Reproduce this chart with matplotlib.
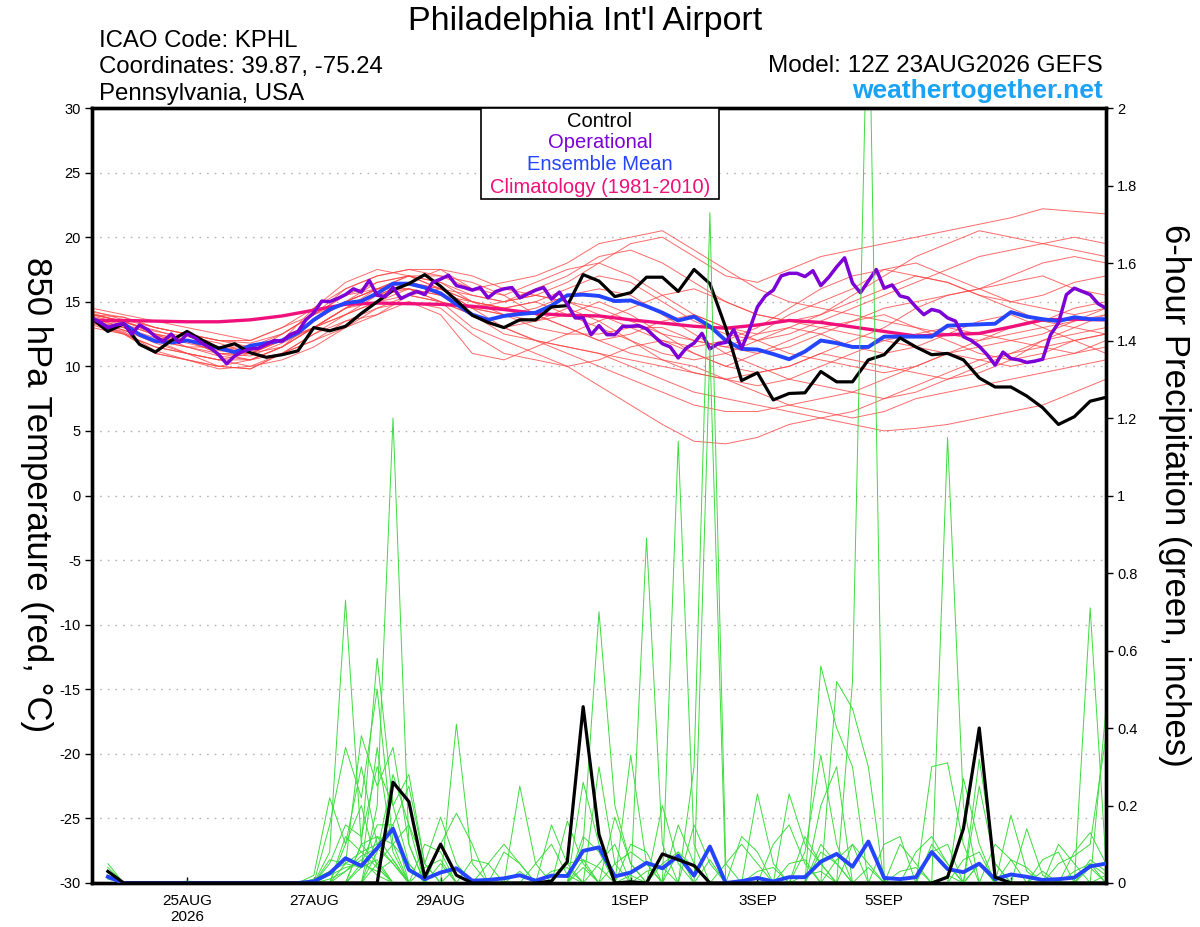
import numpy as np
import pandas as pd
import matplotlib
matplotlib.use("Agg")
import matplotlib.pyplot as plt
from matplotlib.patches import Rectangle

plt.rcParams['font.family'] = ['Liberation Sans', 'DejaVu Sans']
plt.rcParams['axes.unicode_minus'] = False

# ---- run / axis info ----
run_time = pd.Timestamp('2026-08-23 12:00')
tick_dates = ['2026-08-25', '2026-08-27', '2026-08-29', '2026-09-01',
              '2026-09-03', '2026-09-05', '2026-09-07']
tick_labels = ['25AUG\n2026', '27AUG', '29AUG', '1SEP', '3SEP', '5SEP', '7SEP']

# ---- 850 hPa temperature (C) ----
# control, 6-hourly from 12Z 23AUG
ctrl_t = [13.7, 12.7, 13.3, 11.7, 11.1, 12.0, 12.7, 12.0, 11.4, 11.75, 11.05, 10.7, 10.9,
          11.2, 13.0, 12.75, 13.1, 14.1, 15.0, 15.9, 16.4, 17.1, 16.2, 15.1, 13.95,
          13.4, 13.0, 13.6, 13.6, 14.6, 14.7, 17.1, 16.6, 15.4, 15.7, 16.9, 16.9, 15.8,
          17.5, 16.4, 13.0, 8.9, 9.5, 7.4, 7.9, 7.95,
          9.6, 8.8, 8.8, 10.5, 10.9, 12.2, 11.5, 10.9, 11.0, 10.5, 9.1, 8.4, 8.4, 7.7,
          6.8, 5.5, 6.1, 7.3, 7.6]
# ensemble mean, 6-hourly
mean_t = [13.75, 13.0, 13.3, 12.45, 11.95, 11.85, 12.0, 11.75, 11.4, 11.1, 11.6, 11.8, 12.0,
          12.6, 13.6, 14.4, 14.9, 15.05, 15.65, 16.4, 16.4, 16.1, 15.65, 14.8, 14.0,
          13.6, 13.9, 14.05, 14.15, 14.7, 15.5, 15.55, 15.45, 15.05, 15.1, 14.65, 14.15,
          13.55, 13.85, 13.1, 12.0, 11.35, 11.3, 10.95, 10.55,
          11.15, 12.0, 11.8, 11.5, 11.5, 12.3, 12.3, 12.3, 12.3, 13.15, 13.2, 13.25,
          13.3, 14.2, 13.85, 13.65, 13.5, 13.8, 13.65, 13.65]
# operational run, 3-hourly
oper_t = [13.7, 13.4, 13.0, 13.2, 13.3, 12.5, 13.2, 12.85, 12.3, 11.95, 12.5, 11.85, 12.5,
          12.2, 11.75, 11.4, 10.9, 10.2, 10.8, 11.15, 11.35, 11.4, 11.7, 12.0, 11.95,
          12.45, 12.7, 13.6, 14.15, 15.05, 15.0, 15.25, 15.55, 16.0, 15.75, 16.65, 15.5,
          15.4, 16.1, 15.25, 15.55, 15.8, 15.55, 16.5, 16.75, 17.05, 16.25, 16.1, 15.9,
          16.1, 15.3, 15.8, 16.0, 16.1, 15.3, 15.6, 15.9, 16.1, 15.2, 15.75, 14.8,
          13.75, 13.75, 12.45, 13.15, 12.45, 12.45, 13.1, 13.1, 13.15, 12.9, 12.3, 11.75,
          11.5, 10.65, 11.4, 11.8, 12.55, 11.35, 11.75, 11.85, 12.85, 11.4, 12.85, 14.6,
          15.45, 15.9, 17.0, 17.2, 17.2, 16.95, 17.4, 16.25, 16.9, 17.7, 18.4, 16.45,
          15.7, 16.6, 17.5, 16.05, 16.3, 15.45, 15.3, 14.6, 14.0, 14.4, 14.25, 13.75,
          13.5, 12.3, 12.0, 11.55, 10.9, 10.1, 11.1, 10.6, 10.5, 10.3, 10.4, 10.55,
          12.45, 13.35, 15.55, 16.05, 15.8, 15.55, 14.85, 14.5]
# climatology 1981-2010, 12-hourly
clim_t = [13.55, 13.55, 13.5, 13.45, 13.45, 13.6, 13.9, 14.35, 14.8, 14.9, 14.85, 14.8,
          14.65, 14.4, 14.1, 13.95, 13.9, 13.6, 13.35, 13.1, 12.95, 13.2, 13.55, 13.4,
          13.05, 12.7, 12.35, 12.45, 12.55, 13.05, 13.6, 13.65, 13.6]

# ensemble members, 12-hourly
ens_t01 = [14.2, 13.8, 13.0, 12.5, 12.0, 11.8, 12.5, 14.0, 15.5, 16.5, 17.0, 16.5, 15.5, 15.0, 15.5, 16.5,
           18.0, 19.5, 20.0, 18.5, 17.0, 16.5, 17.5, 18.5, 19.0, 19.5, 20.0, 20.5, 21.0, 21.5, 22.2, 22.0, 21.8]
ens_t02 = [13.5, 12.5, 11.5, 11.0, 10.5, 10.5, 11.5, 13.0, 14.5, 15.5, 16.0, 15.0, 13.0, 12.0, 11.0, 10.0,
           8.5, 7.0, 5.5, 4.2, 4.0, 4.5, 5.5, 6.0, 6.5, 7.5, 8.5, 9.5, 10.5, 11.0, 12.0, 12.5, 13.0]
ens_t03 = [13.8, 13.0, 12.0, 11.5, 11.0, 11.0, 12.0, 13.5, 15.0, 16.0, 16.5, 15.5, 14.0, 13.0, 12.0, 11.5,
           11.0, 10.0, 9.0, 8.0, 7.5, 7.0, 6.5, 6.0, 5.5, 5.0, 5.2, 5.5, 6.0, 6.5, 7.0, 8.0, 9.0]
ens_t04 = [14.0, 13.5, 12.5, 12.0, 11.5, 11.0, 12.0, 14.5, 16.0, 17.0, 17.5, 17.0, 16.0, 16.5, 17.0, 18.0,
           19.5, 20.0, 20.5, 19.0, 17.5, 16.0, 15.0, 14.5, 14.0, 13.5, 13.0, 12.5, 12.0, 12.5, 13.0, 13.5, 14.0]
ens_t05 = [13.5, 13.0, 12.0, 11.0, 10.0, 10.5, 11.5, 13.0, 14.5, 15.0, 16.0, 15.5, 14.5, 14.0, 13.5, 14.0,
           15.0, 14.0, 12.5, 11.0, 10.0, 9.5, 10.0, 11.0, 12.0, 13.0, 14.5, 15.5, 16.0, 16.5, 17.0, 16.0, 15.5]
ens_t06 = [13.0, 12.5, 11.0, 10.5, 10.0, 9.8, 11.0, 12.5, 14.0, 15.5, 16.5, 16.0, 15.0, 14.5, 14.0, 13.0,
           12.0, 11.0, 10.5, 10.0, 9.0, 8.5, 9.0, 10.0, 11.0, 12.0, 12.5, 13.0, 12.5, 12.0, 11.5, 11.0, 11.5]
ens_t07 = [14.5, 14.0, 13.5, 13.0, 12.5, 12.0, 13.0, 14.0, 16.0, 17.0, 17.5, 17.5, 17.0, 16.0, 15.5, 15.0,
           14.5, 13.5, 12.5, 12.0, 11.5, 12.5, 14.0, 15.0, 16.0, 17.5, 18.0, 17.0, 16.0, 15.0, 14.5, 14.0, 14.5]
ens_t08 = [13.8, 13.2, 12.5, 12.0, 11.0, 10.5, 11.0, 12.0, 13.5, 14.5, 15.0, 14.5, 12.5, 11.0, 10.5, 10.0,
           10.5, 11.5, 12.0, 11.0, 10.0, 11.0, 12.0, 13.0, 12.5, 12.0, 11.5, 11.0, 10.5, 10.0, 10.5, 11.0, 12.0]
ens_t09 = [14.0, 13.5, 12.5, 11.5, 11.5, 11.5, 12.5, 14.0, 15.5, 16.0, 17.0, 16.0, 15.0, 14.5, 15.0, 16.0,
           17.0, 16.5, 15.0, 13.5, 12.5, 12.0, 12.5, 13.5, 14.5, 15.5, 16.5, 17.5, 18.5, 19.0, 19.5, 20.0, 19.5]
ens_t10 = [13.2, 12.5, 11.5, 11.0, 10.5, 11.0, 12.5, 14.0, 15.0, 16.0, 16.0, 15.0, 14.0, 13.0, 13.5, 14.5,
           13.5, 12.0, 10.5, 9.5, 9.0, 9.5, 10.0, 11.0, 10.5, 10.0, 9.5, 9.0, 9.5, 10.5, 12.0, 13.0, 14.0]
ens_t11 = [13.6, 12.8, 12.0, 11.5, 10.8, 10.5, 11.5, 13.5, 15.0, 16.5, 17.0, 17.0, 16.5, 15.5, 14.0, 13.0,
           12.0, 12.5, 13.5, 14.0, 13.0, 12.0, 11.0, 10.5, 10.0, 9.5, 10.0, 11.0, 12.0, 13.0, 13.5, 14.5, 15.0]
ens_t12 = [14.3, 13.6, 13.0, 12.5, 12.0, 11.5, 12.0, 13.0, 14.0, 15.0, 16.5, 16.0, 14.5, 14.0, 14.5, 15.5,
           16.0, 15.5, 14.0, 12.5, 11.0, 10.0, 9.0, 8.5, 8.0, 7.5, 8.0, 9.0, 10.0, 11.0, 11.5, 12.0, 12.5]
ens_t13 = [13.4, 12.6, 11.0, 10.5, 9.8, 10.0, 11.0, 12.5, 13.5, 14.0, 15.0, 14.0, 11.0, 10.5, 11.5, 12.5,
           13.5, 14.5, 15.5, 16.0, 15.0, 14.0, 13.5, 13.0, 13.5, 14.0, 13.0, 12.0, 11.0, 10.5, 11.0, 12.0, 12.5]
ens_t14 = [14.0, 13.8, 13.0, 12.5, 12.0, 12.0, 13.0, 14.5, 16.5, 17.5, 17.0, 16.0, 15.5, 15.0, 16.0, 17.0,
           18.5, 19.0, 18.0, 16.5, 15.0, 14.0, 13.5, 14.0, 15.0, 16.0, 17.0, 16.5, 15.5, 15.0, 15.5, 16.5, 17.0]
ens_t15 = [13.5, 12.8, 11.8, 11.0, 10.5, 10.0, 10.5, 11.5, 13.0, 14.5, 15.5, 15.0, 14.0, 12.5, 12.0, 11.0,
           10.0, 9.0, 8.0, 7.0, 6.5, 6.5, 7.0, 7.5, 8.0, 9.0, 10.0, 11.0, 11.5, 12.0, 12.5, 13.5, 14.5]
ens_t16 = [13.7, 13.0, 12.2, 12.0, 11.5, 11.2, 12.0, 13.5, 15.0, 16.0, 16.0, 15.5, 15.0, 14.0, 13.0, 12.5,
           12.5, 13.0, 13.0, 12.0, 11.5, 11.0, 11.5, 12.5, 13.5, 14.5, 15.0, 15.5, 16.0, 17.0, 18.0, 18.5, 18.0]
ens_t17 = [14.1, 13.4, 12.8, 12.0, 11.0, 10.8, 11.8, 13.0, 14.5, 16.0, 17.0, 16.5, 15.0, 14.5, 15.0, 14.0,
           13.0, 12.0, 11.0, 10.5, 11.0, 12.0, 13.0, 12.5, 11.5, 11.0, 11.5, 12.5, 13.5, 14.0, 13.0, 12.0, 11.0]
ens_t18 = [13.3, 12.7, 11.2, 10.5, 10.0, 9.8, 11.0, 12.0, 13.0, 14.0, 15.5, 16.0, 14.5, 13.0, 12.0, 11.5,
           11.0, 10.5, 10.0, 9.5, 9.0, 8.0, 7.0, 6.5, 6.0, 6.5, 7.5, 8.0, 8.5, 9.0, 9.5, 10.0, 10.5]
ens_t19 = [14.0, 13.5, 12.7, 12.3, 11.8, 11.0, 11.5, 13.0, 14.0, 15.0, 15.5, 15.0, 14.5, 15.0, 15.5, 15.0,
           14.0, 13.0, 12.0, 11.5, 12.0, 13.0, 14.5, 16.0, 17.0, 17.5, 17.0, 16.5, 15.5, 14.5, 13.5, 13.0, 12.5]
ens_t20 = [13.9, 13.3, 12.4, 11.8, 11.2, 11.0, 12.0, 13.0, 14.5, 15.5, 16.5, 17.5, 16.0, 15.5, 16.5, 17.5,
           18.0, 17.0, 15.5, 14.0, 13.0, 12.5, 13.0, 14.0, 15.5, 17.0, 18.5, 19.5, 20.5, 20.0, 19.5, 19.0, 18.5]

# ---- 6-hour precipitation (inches), valid 6h .. 384h ----
ctrl_p = [.03, 0, 0, 0, 0, 0, 0, 0, 0, 0, 0, 0, 0, 0, 0, 0,
          0, 0, .26, .21, .015, .10, .02, 0, 0, 0, 0, 0, .005, .055, .455, .125,
          0, .003, 0, .075, .06, .045, 0, 0, 0, 0, 0, 0, 0, 0, 0, 0,
          0, 0, 0, 0, 0, .015, .14, .40, .015, 0, 0, 0, 0, 0, 0, 0]
mean_p = [.016, 0, 0, 0, 0, 0, 0, 0, 0, 0, 0, 0, 0, .004, .025, .064,
          .044, .09, .14, .034, .01, .027, .038, .006, .008, .012, .02, .006, .019, .018, .083, .092,
          .017, .027, .052, .038, .07, .019, .094, 0, .005, .013, .004, .015, .015, .055, .075, .042,
          .107, .013, .01, .015, .08, .036, .028, .05, .01, .022, .016, .008, .01, .014, .043, .05]

ens_p01 = [.05, 0, 0, 0, 0, 0, 0, 0, 0, 0, 0, 0, 0, 0, .08, .73,
           .1, .05, 0, 0, 0, 0, 0, 0, 0, 0, 0, 0, 0, 0, .1, .7,
           .2, .05, 0, 0, 0, 0, 0, 0, 0, 0, 0, 0, 0, .1, .05, 0,
           0, 0, 0, 0, 0, 0, 0, .05, 0, 0, 0, 0, 0, 0, 0, 0]
ens_p02 = [.03, 0, 0, 0, 0, 0, 0, 0, 0, 0, 0, 0, 0, 0, 0, 0,
           .1, .58, .2, .05, 0, 0, 0, 0, 0, 0, 0, 0, 0, 0, 0, 0,
           0, 0, .89, .1, 0, 0, 0, 0, 0, 0, 0, 0, 0, 0, 0, .52,
           2.4, 0, 0, 0, 0, 0, 0, 0, 0, 0, 0, 0, 0, 0, .05, .02]
ens_p03 = [.02, 0, 0, 0, 0, 0, 0, 0, 0, 0, 0, 0, 0, 0, 0, 0,
           0, .2, 1.2, .1, 0, 0, 0, 0, 0, 0, 0, 0, 0, 0, 0, 0,
           0, 0, 0, 0, 1.14, .1, 0, 0, 0, 0, 0, 0, 0, 0, 0, 0,
           0, 0, 0, 0, 0, 1.15, .2, 0, 0, 0, 0, 0, 0, 0, .71, .05]
ens_p04 = [.01, 0, 0, 0, 0, 0, 0, 0, 0, 0, 0, 0, 0, 0, .15, .35,
           .22, .5, .1, 0, 0, 0, 0, 0, 0, 0, 0, 0, 0, 0, 0, 0,
           0, 0, 0, 0, 0, .3, 1.73, .05, 0, 0, 0, 0, 0, 0, 0, 0,
           0, 0, 0, 0, .3, .31, .1, 0, 0, 0, 0, 0, 0, 0, 0, .45]
ens_p05 = [0, 0, 0, 0, 0, 0, 0, 0, 0, 0, 0, 0, 0, .02, .22, .1,
           .3, .1, .15, 0, 0, 0, .41, .05, 0, 0, 0, 0, 0, 0, 0, 0,
           0, 0, 0, 0, 0, 0, 1.38, 0, 0, 0, 0, 0, 0, .56, .4, .3,
           0, 0, 0, 0, 0, 0, 0, .32, .05, 0, 0, 0, 0, 0, 0, 0]
ens_p06 = [0, 0, 0, 0, 0, 0, 0, 0, 0, 0, 0, 0, 0, 0, 0, .05,
           .38, .25, .35, .1, 0, 0, 0, 0, 0, 0, .25, .05, 0, 0, 0, 0,
           0, .33, .05, 0, 0, 0, 0, 0, 0, 0, 0, 0, 0, 0, .52, .45,
           .3, 0, 0, 0, 0, 0, 0, 0, 0, .175, .03, 0, 0, 0, 0, 0]
ens_p07 = [0, 0, 0, 0, 0, 0, 0, 0, 0, 0, 0, 0, 0, 0, .05, .15,
           .12, .3, .2, .28, .05, 0, 0, 0, 0, 0, 0, 0, 0, 0, .26, .1,
           0, 0, 0, 0, 0, 0, 0, 0, 0, .23, .05, 0, 0, 0, 0, 0,
           0, 0, 0, 0, 0, 0, .27, .1, 0, 0, 0, 0, 0, 0, 0, 0]
ens_p08 = [0, 0, 0, 0, 0, 0, 0, 0, 0, 0, 0, 0, 0, 0, 0, 0,
           .05, .15, .15, .25, .05, .17, .05, 0, 0, 0, 0, 0, 0, .16, .05, 0,
           0, 0, 0, 0, 0, 0, 0, 0, 0, 0, 0, .23, .1, .05, 0, 0,
           0, 0, 0, 0, 0, 0, 0, .25, .05, 0, 0, 0, 0, 0, 0, 0]
ens_p09 = [0, 0, 0, 0, 0, 0, 0, 0, 0, 0, 0, 0, 0, 0, 0, .12,
           .08, .1, .05, 0, 0, .1, .18, .1, 0, 0, 0, 0, .15, .05, 0, 0,
           .17, .05, 0, 0, 0, 0, 0, 0, 0, 0, 0, 0, .08, .33, .1, 0,
           0, 0, 0, 0, 0, 0, 0, 0, 0, 0, .14, .02, 0, 0, 0, 0]
ens_p10 = [0, 0, 0, 0, 0, 0, 0, 0, 0, 0, 0, 0, 0, .01, .03, .05,
           .04, .35, .08, 0, 0, 0, 0, 0, .05, .1, .05, 0, 0, 0, 0, .3,
           .05, 0, 0, 0, .15, .05, 0, 0, 0, 0, 0, 0, 0, .2, .3, 0,
           0, 0, .1, .05, 0, 0, 0, 0, 0, 0, 0, 0, 0, .08, .13, .05]
ens_p11 = [.02, 0, 0, 0, 0, 0, 0, 0, 0, 0, 0, 0, 0, 0, 0, 0,
           0, .08, .28, .15, .05, 0, 0, 0, 0, 0, 0, .05, .1, .02, 0, 0,
           0, 0, 0, .2, .05, 0, 0, 0, 0, 0, .1, .15, .05, 0, 0, 0,
           0, 0, 0, 0, 0, 0, 0, 0, 0, 0, 0, 0, .05, .07, .1, .38]
ens_p12 = [0, 0, 0, 0, 0, 0, 0, 0, 0, 0, 0, 0, 0, 0, 0, 0,
           .1, .12, .06, 0, .1, .08, 0, 0, 0, 0, 0, 0, 0, 0, .12, .08,
           0, 0, 0, 0, 0, .15, .05, 0, 0, 0, 0, 0, 0, 0, 0, .1,
           .05, 0, 0, .08, .12, .05, 0, 0, 0, 0, 0, .06, .08, 0, 0, 0]
ens_p13 = [0, 0, 0, 0, 0, 0, 0, 0, 0, 0, 0, 0, 0, 0, .06, .05,
           .08, .04, 0, 0, 0, 0, 0, 0, 0, .08, .05, 0, 0, 0, 0, 0,
           0, .1, .08, 0, 0, 0, 0, 0, .12, .08, 0, 0, 0, 0, 0, 0,
           0, .1, .12, 0, 0, 0, 0, 0, .1, .06, 0, 0, 0, 0, 0, 0]
ens_p14 = [0, 0, 0, 0, 0, 0, 0, 0, 0, 0, 0, 0, 0, 0, 0, 0,
           0, .05, .1, .05, 0, 0, 0, .06, .05, 0, 0, 0, 0, 0, 0, .05,
           .1, 0, 0, 0, 0, 0, 0, .05, .1, .05, 0, 0, .12, .05, 0, 0,
           0, 0, 0, 0, .08, .1, 0, 0, 0, 0, 0, 0, 0, 0, .06, .03]
ens_p15 = [0, 0, 0, 0, 0, 0, 0, 0, 0, 0, 0, 0, 0, 0, 0, .03,
           .06, .02, 0, 0, 0, 0, .04, 0, 0, 0, 0, 0, 0, 0, .06, .04,
           0, 0, 0, 0, .08, .04, 0, 0, 0, 0, 0, .05, .06, 0, 0, 0,
           0, 0, 0, 0, 0, 0, .06, .08, 0, 0, 0, 0, 0, .03, .05, 0]
ens_p16 = [0, 0, 0, 0, 0, 0, 0, 0, 0, 0, 0, 0, 0, 0, 0, .1,
           .2, .04, 0, 0, 0, 0, 0, 0, 0, 0, 0, 0, 0, .05, .06, 0,
           0, 0, 0, .05, .08, 0, 0, 0, 0, 0, 0, 0, 0, 0, .06, .1,
           0, 0, 0, 0, .1, .05, 0, 0, 0, 0, 0, 0, .1, .05, 0, 0]
ens_p17 = [.04, 0, 0, 0, 0, 0, 0, 0, 0, 0, 0, 0, 0, 0, 0, 0,
           0, .12, .1, .15, 0, .05, 0, 0, 0, 0, 0, 0, 0, 0, 0, 0,
           .05, .08, .05, 0, 0, 0, 0, 0, 0, 0, 0, 0, 0, .08, .05, 0,
           0, 0, 0, 0, 0, 0, 0, 0, 0, .06, .04, 0, 0, 0, 0, 0]
ens_p18 = [0, 0, 0, 0, 0, 0, 0, 0, 0, 0, 0, 0, 0, 0, .02, .04,
           .05, .03, .06, 0, 0, 0, 0, 0, 0, 0, .03, 0, 0, 0, .04, 0,
           0, 0, 0, 0, 0, 0, .06, 0, 0, 0, 0, 0, 0, 0, 0, 0,
           .04, 0, 0, 0, 0, 0, 0, .05, 0, 0, 0, 0, 0, 0, .04, 0]
ens_p19 = [0, 0, 0, 0, 0, 0, 0, 0, 0, 0, 0, 0, 0, 0, 0, 0,
           .04, .06, 0, 0, .04, .06, 0, 0, 0, 0, 0, 0, .03, .04, 0, 0,
           0, 0, .03, .04, 0, 0, 0, 0, 0, .03, .04, 0, 0, 0, 0, 0,
           0, 0, .03, .04, 0, 0, 0, 0, 0, 0, 0, .03, 0, 0, 0, 0]
ens_p20 = [0, 0, 0, 0, 0, .005, 0, 0, 0, 0, 0, 0, 0, 0, .01, .03,
           .07, .09, .05, 0, 0, 0, 0, 0, 0, 0, 0, 0, 0, 0, 0, 0,
           0, .02, 0, 0, 0, 0, 0, 0, 0, 0, 0, 0, .02, .03, 0, 0,
           0, 0, 0, 0, 0, .02, 0, 0, 0, 0, 0, 0, 0, 0, 0, .02]

ens_t = [ens_t01, ens_t02, ens_t03, ens_t04, ens_t05, ens_t06, ens_t07, ens_t08, ens_t09, ens_t10,
         ens_t11, ens_t12, ens_t13, ens_t14, ens_t15, ens_t16, ens_t17, ens_t18, ens_t19, ens_t20]
ens_p = [ens_p01, ens_p02, ens_p03, ens_p04, ens_p05, ens_p06, ens_p07, ens_p08, ens_p09, ens_p10,
         ens_p11, ens_p12, ens_p13, ens_p14, ens_p15, ens_p16, ens_p17, ens_p18, ens_p19, ens_p20]

# forecast hours
h6 = np.arange(0, 385, 6)
h3 = np.arange(0, 385, 3)
h12 = np.arange(0, 385, 12)
hp = np.arange(6, 385, 6)
tick_hours = [(pd.Timestamp(d) - run_time).total_seconds() / 3600 for d in tick_dates]

C_OPER = '#7d00d6'
C_MEAN = '#2444ff'
C_CLIM = '#f0107c'
C_RED = '#ff4444'
C_GREEN = '#3cdc3c'

fig = plt.figure(figsize=(12, 9.27), dpi=100)
ax = fig.add_axes([92/1200, 1-883/927, (1106-92)/1200, (883-108)/927])
ax2 = ax.twinx()

for y in range(-25, 30, 5):
    ax.axhline(y, color='#b4b4b4', lw=1.0, ls=(0, (1.2, 4.3)), zorder=0)

for m in ens_t:
    ax.plot(h12, m, color=C_RED, lw=0.7, alpha=0.8, zorder=1)
ax.plot(h12, clim_t, color=C_CLIM, lw=2.4, zorder=3)
ax.plot(h6, mean_t, color=C_MEAN, lw=2.8, zorder=4)
ax.plot(h6, ctrl_t, color='black', lw=2.3, zorder=5)
ax.plot(h3, oper_t, color=C_OPER, lw=2.5, zorder=6)

for m in ens_p:
    ax2.plot(hp, m, color=C_GREEN, lw=0.7, zorder=1)
ax2.plot(hp, mean_p, color=C_MEAN, lw=2.8, zorder=4)
ax2.plot(hp, ctrl_p, color='black', lw=2.3, zorder=5)

ax.set_xlim(0, 384)
ax.set_ylim(-30, 30)
ax2.set_ylim(0, 2)
ax.set_yticks(range(-30, 31, 5))
p_ticks = np.round(np.arange(0, 2.01, 0.2), 1)
ax2.set_yticks(p_ticks)
ax2.set_yticklabels(['%g' % v for v in p_ticks])
ax.set_xticks(tick_hours)
ax.set_xticklabels(tick_labels)

ax.tick_params(axis='y', direction='out', length=5, width=1, labelsize=10.5, pad=3)
ax2.tick_params(axis='y', direction='out', length=5, width=1, labelsize=10.5, pad=3)
ax.tick_params(axis='x', direction='in', length=4, width=1, labelsize=11, pad=8)
for a in (ax, ax2):
    for s in a.spines.values():
        s.set_linewidth(2.4)

# axis titles (both read top to bottom)
fig.text(36/1200, 1 - 495/927, '850 hPa Temperature (red, °C)', fontsize=25,
         rotation=270, ha='center', va='center')
fig.text(1175/1200, 1 - 495/927, '6-hour Precipitation (green, inches)', fontsize=25,
         rotation=270, ha='center', va='center')

# legend box
ax2.add_patch(Rectangle((0.3833, 0.8826), 0.235, 0.1174, transform=ax2.transAxes,
                        facecolor='white', edgecolor='black', lw=1.2, zorder=20, clip_on=False))
leg = [('Control', 'black', 126.7), ('Operational', C_OPER, 148),
       ('Ensemble Mean', C_MEAN, 170), ('Climatology (1981-2010)', C_CLIM, 192.7)]
for txt, col, yb in leg:
    fig.text(600/1200, 1 - yb/927, txt, color=col, fontsize=14.5, ha='center', va='baseline', zorder=21)

fig.text(585/1200, 1 - 30/927, "Philadelphia Int'l Airport", fontsize=24.5, ha='center', va='baseline')
fig.text(99/1200, 1 - 46.7/927, 'ICAO Code: KPHL', fontsize=17.3, ha='left', va='baseline')
fig.text(99/1200, 1 - 73/927, 'Coordinates: 39.87, -75.24', fontsize=17.3, ha='left', va='baseline')
fig.text(99/1200, 1 - 100/927, 'Pennsylvania, USA', fontsize=17.3, ha='left', va='baseline')
fig.text(1103/1200, 1 - 72/927, 'Model: 12Z 23AUG2026 GEFS', fontsize=17.5, ha='right', va='baseline')
fig.text(1103/1200, 1 - 98/927, 'weathertogether.net', fontsize=19, fontweight='bold',
         color='#1aa3f5', ha='right', va='baseline')

fig.savefig('out.png', dpi=100)
